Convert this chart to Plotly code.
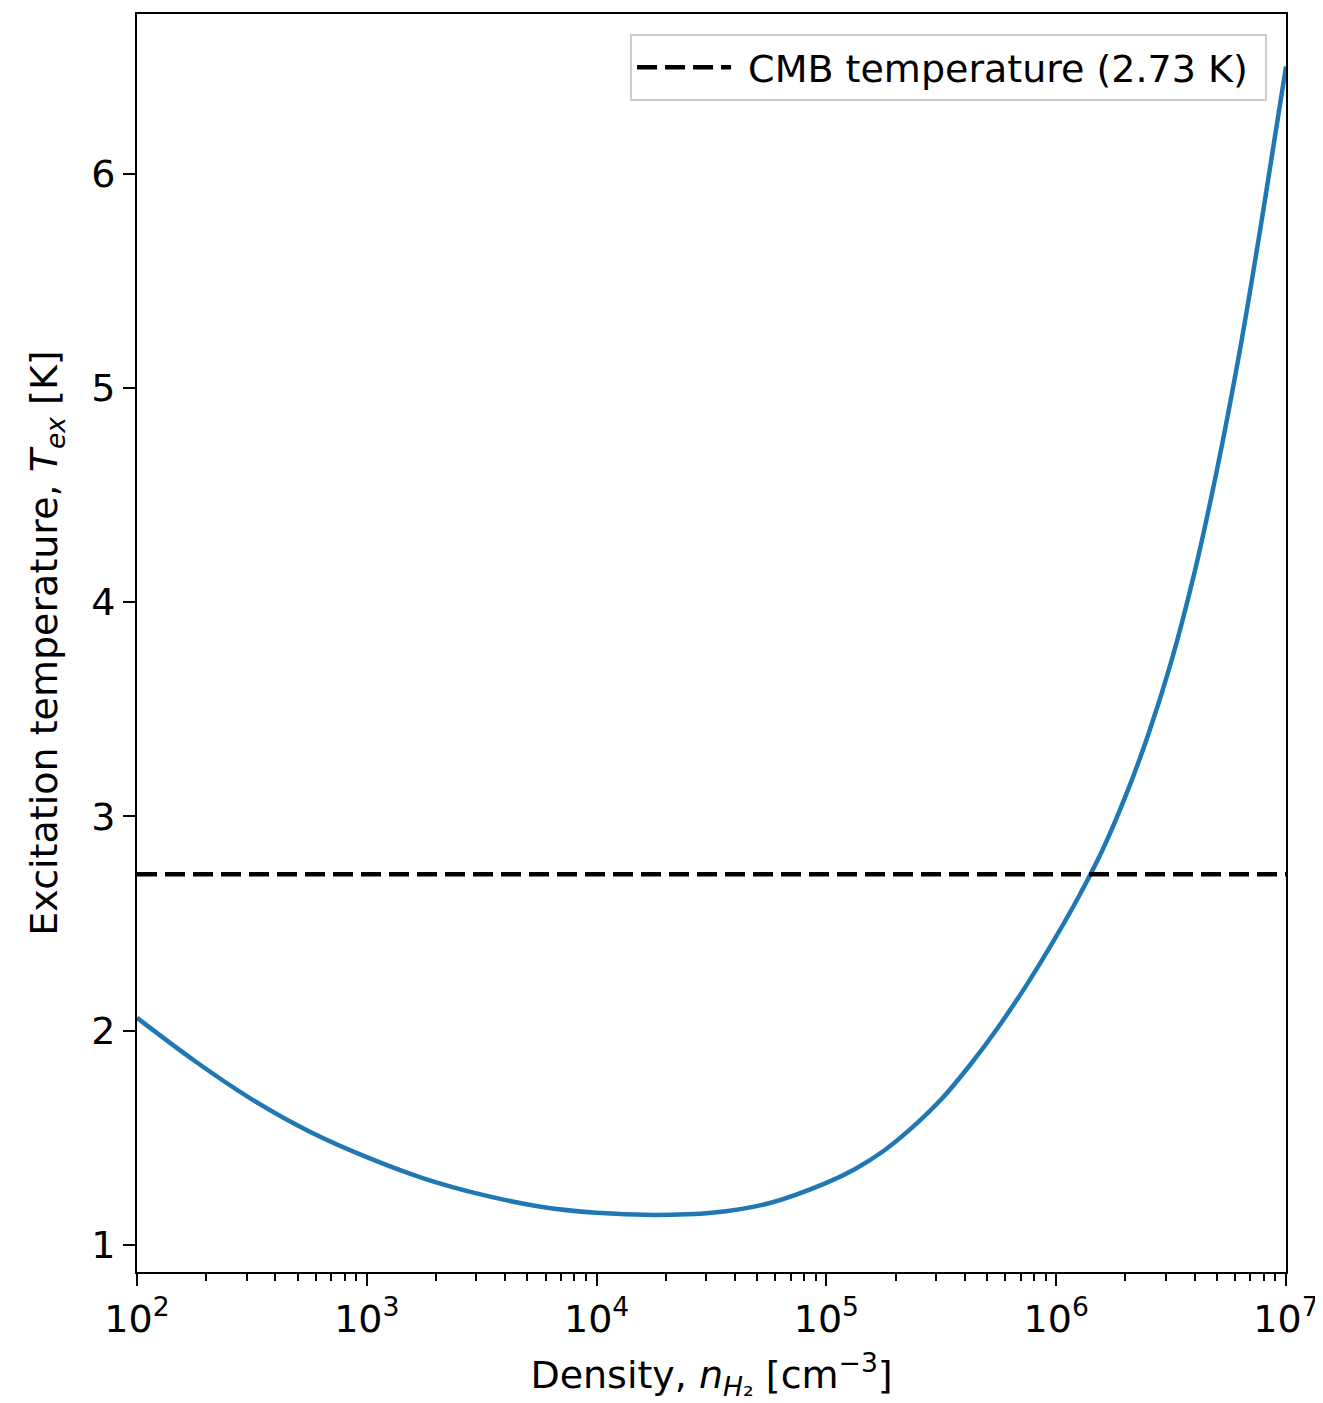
import plotly.graph_objects as go

# Data (log10 density, excitation temperature)
log_density = [2.0, 2.25, 2.5, 2.75, 3.0, 3.25, 3.5, 3.75, 4.0, 4.25, 4.5, 4.75,
               5.0, 5.125, 5.25, 5.375, 5.5, 5.625, 5.75, 5.875, 6.0, 6.1, 6.2, 6.3,
               6.4, 6.5, 6.6, 6.7, 6.8, 6.9, 7.0]
t_ex = [2.06, 1.86, 1.68, 1.53, 1.41, 1.31, 1.235, 1.18, 1.15, 1.14, 1.15, 1.195,
        1.29, 1.355, 1.44, 1.55, 1.68, 1.84, 2.02, 2.22, 2.44, 2.63, 2.84, 3.09,
        3.38, 3.72, 4.13, 4.62, 5.18, 5.82, 6.5]
density = [10 ** v for v in log_density]

cmb_temp = 2.73
x_range_log = [2, 7]
x_tick_exponents = [2, 3, 4, 5, 6, 7]
y_ticks = [1, 2, 3, 4, 5, 6]

FONT = "DejaVu Sans"
FS = 38

fig = go.Figure()
fig.add_trace(go.Scatter(
    x=density, y=t_ex, mode="lines", line=dict(color="#1f77b4", width=4.5, shape="spline"),
    showlegend=False,
))
fig.add_trace(go.Scatter(
    x=[10 ** x_range_log[0], 10 ** x_range_log[1]], y=[cmb_temp, cmb_temp], mode="lines",
    line=dict(color="black", width=4.5, dash="20px,8px"),
    name="\u00a0CMB temperature (2.73 K)\u00a0",
))

fig.update_layout(
    width=1315, height=1395,
    margin=dict(l=129, r=33, t=4, b=131),
    paper_bgcolor="white", plot_bgcolor="white",
    font=dict(family=FONT, size=FS, color="black"),
    legend=dict(
        x=0.9835, y=0.984, xanchor="right", yanchor="top",
        bgcolor="white", bordercolor="#cccccc", borderwidth=2,
        font=dict(size=FS), itemwidth=94,
    ),
)
fig.update_xaxes(
    type="log", range=x_range_log,
    tickvals=[10 ** e for e in x_tick_exponents],
    ticktext=[f"10<sup>{e}</sup>" for e in x_tick_exponents],
    ticks="outside", ticklen=12, tickwidth=2, tickcolor="black",
    minor=dict(ticks="outside", ticklen=7, tickwidth=2, tickcolor="black",
               showgrid=False, dtick="D1"),
    showline=True, linecolor="black", linewidth=2, mirror=True,
    showgrid=False, zeroline=False,
    title=dict(text="Density, <i>n</i><sub><i>H</i>₂</sub> [cm<sup>−3</sup>]", standoff=22,
               font=dict(size=FS)),
    tickfont=dict(size=FS),
)
fig.update_yaxes(
    range=[0.874, 6.745],
    tickvals=y_ticks,
    ticks="outside", ticklen=12, tickwidth=2, tickcolor="black",
    showline=True, linecolor="black", linewidth=2, mirror=True,
    showgrid=False, zeroline=False,
    title=dict(text="Excitation temperature, <i>T<sub>ex</sub></i> [K]", standoff=22,
               font=dict(size=FS)),
    tickfont=dict(size=FS),
)

fig.write_html("out.html")
